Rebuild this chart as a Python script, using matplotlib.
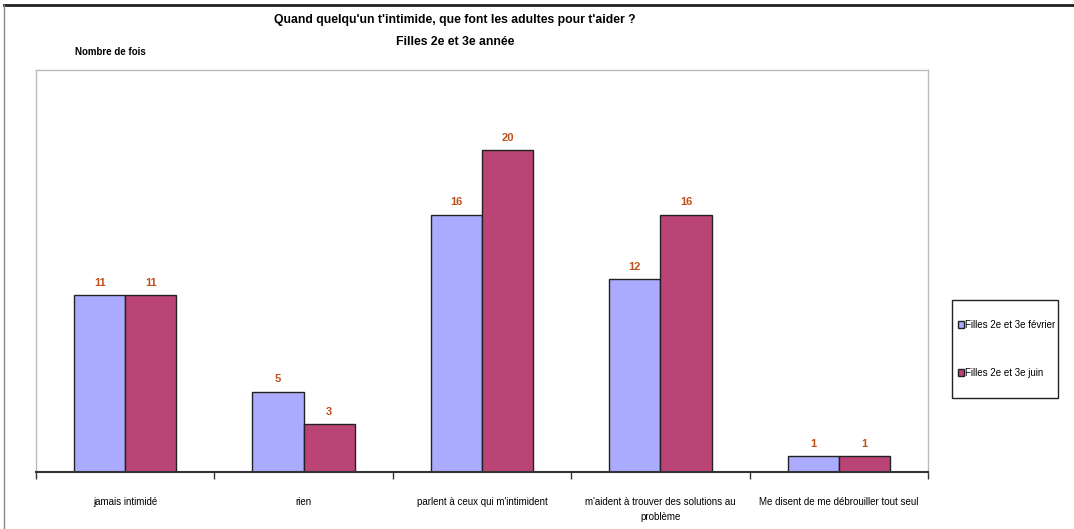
import matplotlib
matplotlib.use("Agg")
import matplotlib.pyplot as plt
from matplotlib.lines import Line2D
from matplotlib.patches import Patch, Rectangle
import numpy as np

categories = ["jamais intimidé", "rien", "parlent à ceux qui m'intimident",
              "m'aident à trouver des solutions au\nproblème",
              "Me disent de me débrouiller tout seul"]
fevrier = [11, 5, 16, 12, 1]
juin = [11, 3, 20, 16, 1]
series_labels = ["Filles 2e et 3e février", "Filles 2e et 3e juin"]

plt.rcParams['font.family'] = ['Liberation Sans Narrow', 'Liberation Sans', 'DejaVu Sans']

W, H = 1074, 529
fig = plt.figure(figsize=(W/100, H/100), dpi=100)
ax = fig.add_axes([36/W, 1-472/H, (928-36)/W, (472-70)/H])

x = np.arange(len(categories))
bw = 0.287
c1, c2 = "#AAAAFF", "#BB4477"
ax.bar(x - bw/2, fevrier, bw, color=c1, edgecolor="#222222", linewidth=1)
ax.bar(x + bw/2, juin, bw, color=c2, edgecolor="#222222", linewidth=1)
for i in range(len(categories)):
    ax.text(x[i]-bw/2, fevrier[i]+0.45, str(fevrier[i]), ha='center', va='bottom',
            color="#C0501A", fontsize=8, fontweight='bold')
    ax.text(x[i]+bw/2, juin[i]+0.45, str(juin[i]), ha='center', va='bottom',
            color="#C0501A", fontsize=8, fontweight='bold')

ax.set_xlim(-0.5, len(categories)-0.5)
ax.set_ylim(0, 25)
ax.set_yticks([])
ax.set_xticks(np.arange(len(categories)+1) - 0.5)
ax.set_xticklabels([])
ax.set_xticks(x, minor=True)
ax.set_xticklabels(categories, minor=True, fontsize=7, linespacing=1.6)
ax.tick_params(axis='x', which='minor', length=0, pad=18)
ax.tick_params(axis='x', which='major', length=5, width=1, color="#333333", direction='out')
for s in ['left', 'top', 'right']:
    ax.spines[s].set_color("#BBBBBB")
    ax.spines[s].set_linewidth(1)
ax.spines['bottom'].set_color("#333333")
ax.spines['bottom'].set_linewidth(1.5)

fig.text(455/W, 1-20/H, "Quand quelqu'un t'intimide, que font les adultes pour t'aider ?",
         ha='center', va='center', fontsize=8.8, fontweight='bold')
fig.text(455/W, 1-42/H, "Filles 2e et 3e année", ha='center', va='center',
         fontsize=8.8, fontweight='bold')
fig.text(75/W, 1-52/H, "Nombre de fois", ha='left', va='center', fontsize=7, fontweight='bold')

# outer frame lines
fig.add_artist(Line2D([4/W, 1], [1-5/H, 1-5/H], color="#222222", linewidth=2))
fig.add_artist(Line2D([4/W, 4/W], [0, 1-5/H], color="#888888", linewidth=1))

handles = [Patch(facecolor=c1, edgecolor="#222222"), Patch(facecolor=c2, edgecolor="#222222")]
leg = fig.legend(handles, series_labels, loc='center left',
                 bbox_to_anchor=(958/W, 1-349/H), fontsize=7, frameon=False,
                 handlelength=0.6, handleheight=0.7,
                 handletextpad=0.15, labelspacing=3.9, borderpad=0, borderaxespad=0)
fig.add_artist(Rectangle((952/W, 1-398/H), (1058-952)/W, (398-300)/H,
                         transform=fig.transFigure, fill=False, edgecolor="#222222",
                         linewidth=1))

fig.savefig("out.png", dpi=100)
